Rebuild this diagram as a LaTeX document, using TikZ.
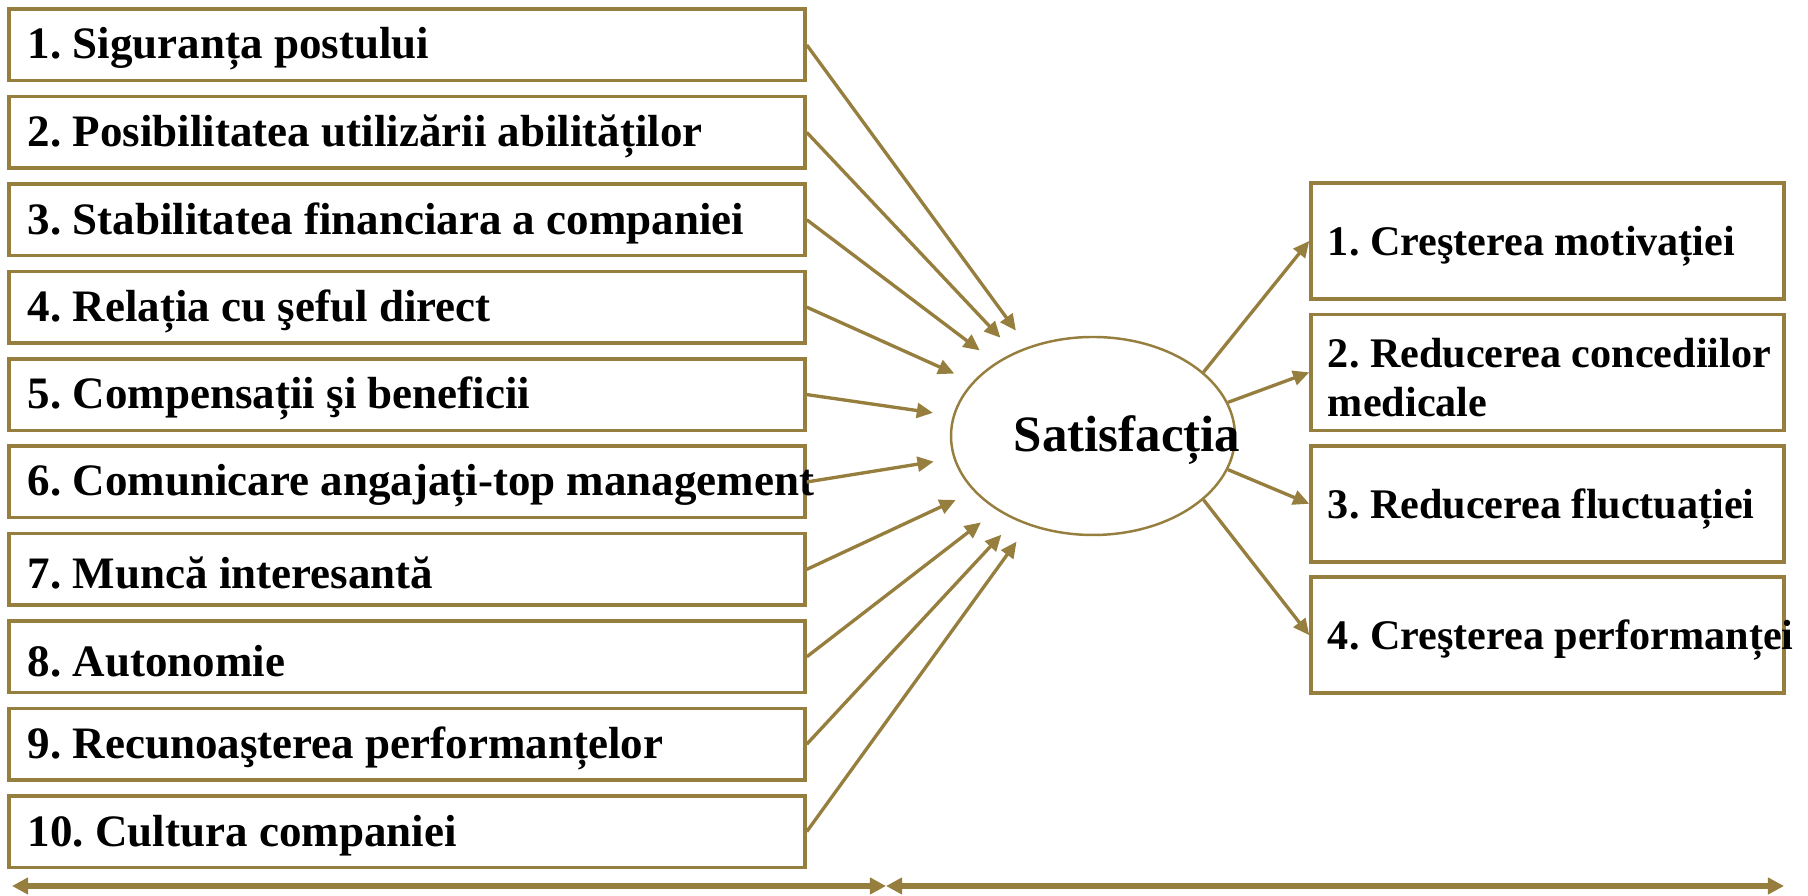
\documentclass[tikz,border=0pt]{standalone}
\usepackage{fontspec}
\setmainfont{Liberation Serif}
\frenchspacing
\usetikzlibrary{arrows.meta,shapes.geometric}
\definecolor{satgold}{RGB}{150,126,62}
\tikzset{
  leftbox/.style={draw=satgold, line width=1pt, minimum width=7.96cm, minimum height=0.715cm, inner sep=0pt},
  rightbox/.style={draw=satgold, line width=1pt, minimum width=4.73cm, minimum height=1.16cm, inner sep=0pt},
  boxtext/.style={anchor=west, inner sep=0pt, align=left, font=\bfseries\fontsize{12.8}{14}\selectfont},
  conn/.style={satgold, line width=0.95pt, -{Triangle[length=4.6pt,width=4.2pt]}},
  span/.style={satgold, line width=1.6pt, {Triangle[length=4.6pt,width=4.6pt]}-{Triangle[length=4.6pt,width=4.6pt]}},
}
\begin{document}
\begin{tikzpicture}
\useasboundingbox (0,0) rectangle (18.08,8.96);
%\draw[step=0.5cm,gray,very thin] (0,0) grid (18,9); %background grid
% centre
\node[ellipse, draw=satgold, line width=0.7pt, minimum width=2.84cm, minimum height=1.98cm] (sat) at (10.93,4.60) {};
\node[font=\bfseries\fontsize{14.5}{17}\selectfont, inner sep=0pt] (sattxt) at (11.27,4.56) {Satisfacția};
% factors
\foreach \i/\txt in {1/Siguranța postului, 2/Posibilitatea utilizării abilităților, 3/Stabilitatea financiara a companiei, 4/Relația cu şeful direct, 5/Compensații şi beneficii, 6/Comunicare angajați-top management, 7/Muncă interesantă, 8/Autonomie, 9/Recunoaşterea performanțelor, 10/Cultura companiei}{
  \node[leftbox] (l\i) at (4.07,{8.51-0.874*(\i-1)}) {};
  \node[boxtext] (lt\i) at ([xshift=0.2cm,yshift=-0.04cm]l\i.west) {\i. \txt};
  \draw[conn, shorten >=0.2cm] (l\i.east) -- (sat);
}
% effects
\foreach \i/\txt/\a in {1/Creşterea motivației/30, 2/Reducerea concediilor\\medicale/14, 3/Reducerea fluctuației/-14, 4/Creşterea performanței/-30}{
  \node[rightbox] (r\i) at (15.475,{6.55-1.314*(\i-1)}) {};
  \node[boxtext, font=\bfseries\fontsize{12}{14}\selectfont] (rt\i) at ([xshift=0.18cm,yshift=-0.05cm]r\i.west) {\i. \txt};
  \draw[conn] (sat.\a) -- (r\i.west);
}
% bottom spans
\coordinate (s1) at (0.12,0.10);
\coordinate (s2) at (8.86,0.10);
\coordinate (s3) at (17.84,0.10);
\draw[span] (s1) -- (s2);
\draw[span] (s2) -- (s3);
\end{tikzpicture}
\end{document}
